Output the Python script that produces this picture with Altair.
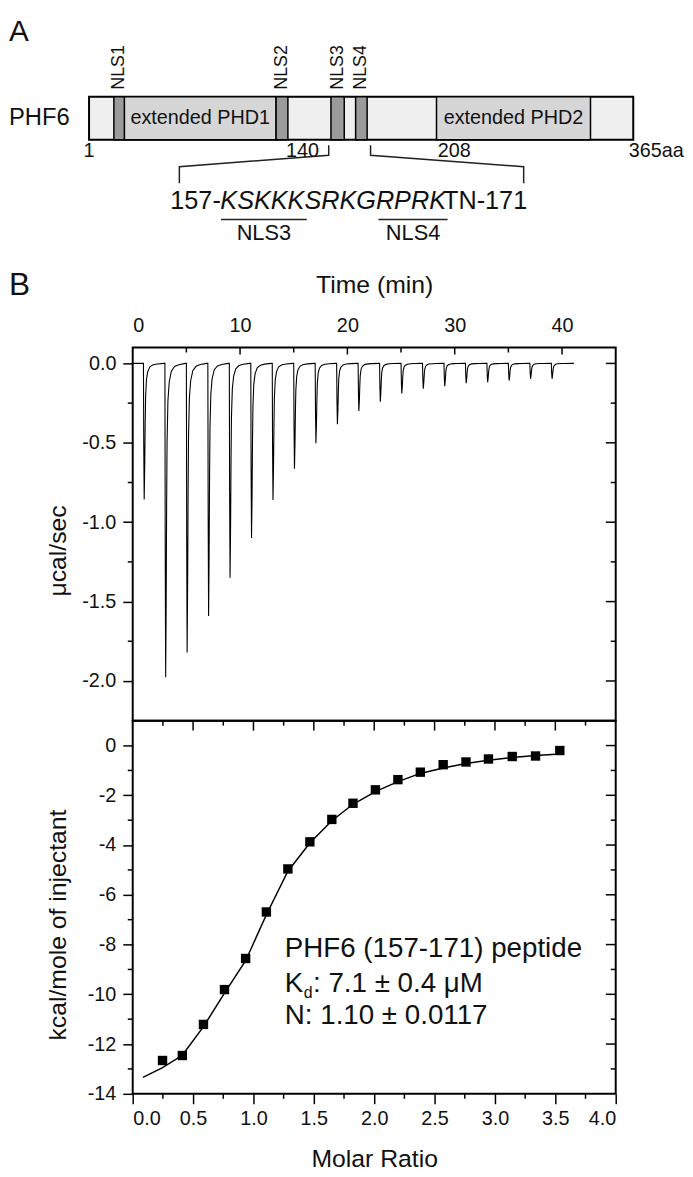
import altair as alt
import pandas as pd

FONT = "Liberation Sans"
W = 488      # plot width shared by all panels
H_A = 338    # schematic panel height
H_T = 377    # raw ITC trace height
H_B = 377    # isotherm height

# ---------------- Panel A: PHF6 domain schematic ----------------
bar_start = [1]
bar_end = [365]
domain_names = ["extended PHD1", "extended PHD2"]
domain_start = [24.6, 233.4]
domain_end = [126.1, 336.4]
nls_names = ["NLS1", "NLS2", "NLS3", "NLS4"]
nls_start = [17.6, 126.1, 162.8, 179.3]
nls_end = [24.6, 134.0, 171.7, 187.0]
residue_labels = ["1", "140", "208", "365aa"]
residue_label_pos = [1, 143.7, 245.2, 380.4]
bracket_side = ["left"] * 4 + ["right"] * 4
bracket_res = [161.3, 161.3, 61.4, 61.4, 189.3, 189.3, 291.7, 291.7]
bracket_row = [133.7, 143.7, 155.3, 172.0, 133.7, 143.7, 155.3, 172.0]
peptide_parts = ["157-", "KSKKKSRKGRPRK", "TN-171"]
peptide_part_start = [55.35, 88.8, 237.8]
peptide_italic = [False, True, False]
peptide_nls = ["NLS3", "NLS4"]
peptide_nls_start = [89.25, 194.6]
peptide_nls_end = [146.6, 240.8]

# row layout of the schematic (pixels from panel top)
ROW_A = 28.0
ROW_BAR_TOP, ROW_BAR_BOT, ROW_BAR_MID = 84.7, 128.0, 106.4
ROW_NLS_LABEL, ROW_RES_LABEL = 55.0, 139.5
ROW_SEQ, ROW_UNDER, ROW_UNDER_LABEL = 198.0, 208.7, 222.0

# ---------------- Panel B: ITC raw trace ----------------
injection_time = [1.0, 3.0, 5.0, 7.0, 9.0, 11.0, 13.0, 15.0, 17.0, 19.0,
                  21.0, 23.0, 25.0, 27.0, 29.0, 31.0, 33.0, 35.0, 37.0, 39.0]
injection_peak = [-0.857, -1.977, -1.82, -1.59, -1.35, -1.10, -0.86, -0.663, -0.503, -0.383,
                  -0.30, -0.242, -0.19, -0.16, -0.143, -0.124, -0.118, -0.108, -0.097, -0.097]
spike_dt = [0.0, 0.03, 0.07, 0.12, 0.16, 0.2, 0.28, 0.4, 0.6, 0.9, 1.3, 1.9]
spike_frac = [0.0, 0.6, 1.0, 0.75, 0.45, 0.25, 0.12, 0.06, 0.025, 0.01, 0.004, 0.0]
trace_start, trace_end = 0.0, 41.1

# ---------------- Panel B: integrated isotherm ----------------
point_ratio = [0.247, 0.411, 0.586, 0.760, 0.935, 1.107, 1.285, 1.467, 1.649, 1.824,
               2.01, 2.196, 2.382, 2.571, 2.76, 2.946, 3.143, 3.336, 3.537]
point_heat = [-12.66, -12.46, -11.21, -9.81, -8.56, -6.69, -4.96, -3.87, -2.97, -2.32,
              -1.78, -1.37, -1.07, -0.77, -0.66, -0.54, -0.44, -0.42, -0.20]
fit_ratio = [0.085, 0.247, 0.411, 0.586, 0.760, 0.935, 1.107, 1.285, 1.467, 1.649,
             1.824, 2.01, 2.196, 2.382, 2.571, 2.76, 2.946, 3.143, 3.336, 3.537]
fit_heat = [-13.34, -12.95, -12.45, -11.3, -9.95, -8.65, -6.8, -5.05, -3.92, -3.02,
            -2.36, -1.85, -1.45, -1.12, -0.9, -0.72, -0.59, -0.48, -0.4, -0.34]

# axis tick values
time_labels = [0, 10, 20, 30, 40]
time_top_major = [10, 20, 30, 40]
time_top_minor = [5, 15, 25, 35]
power_major = [0.0, -0.5, -1.0, -1.5, -2.0]
power_minor = [-0.25, -0.75, -1.25, -1.75]
ratio_major = [0.0, 0.5, 1.0, 1.5, 2.0, 2.5, 3.0, 3.5, 4.0]
ratio_inner_major = [0.5, 1.0, 1.5, 2.0, 2.5, 3.0, 3.5]
ratio_minor = [0.25, 0.75, 1.25, 1.75, 2.25, 2.75, 3.25, 3.75]
heat_major = [0, -2, -4, -6, -8, -10, -12, -14]
heat_inner_major = [0, -2, -4, -6, -8, -10, -12]
heat_minor = [-1, -3, -5, -7, -9, -11, -13]

annot_lines = ["PHF6 (157-171) peptide", "N: 1.10 \u00b1 0.0117"]
annot_heat = [-8.19, -10.88]
kd_heat = -9.58
kd_rest = ": 7.1 \u00b1 0.4 \u03bcM"
annot_ratio = 1.26

# ================= build panel A =================
xA = alt.Scale(domain=[30.2, 353.27], nice=False, zero=False)
yA = alt.Scale(domain=[0, H_A], reverse=True, nice=False, zero=False)


def xa(f):
    return alt.X(f, type="quantitative", scale=xA, axis=None)


def ya(f):
    return alt.Y(f, type="quantitative", scale=yA, axis=None)


bar_df = pd.DataFrame({"s": bar_start, "e": bar_end, "y0": [ROW_BAR_TOP], "y1": [ROW_BAR_BOT]})
bar = alt.Chart(bar_df).mark_rect(fill="#efefef", stroke="black", strokeWidth=2).encode(
    x=xa("s"), x2="e", y=ya("y0"), y2="y1")

dom_df = pd.DataFrame({"name": domain_names, "s": domain_start, "e": domain_end})
dom_df["mid"] = (dom_df["s"] + dom_df["e"]) / 2
dom_df["y0"], dom_df["y1"], dom_df["ym"] = ROW_BAR_TOP, ROW_BAR_BOT, ROW_BAR_MID
dom_rect = alt.Chart(dom_df).mark_rect(fill="#d6d6d6", stroke="black", strokeWidth=1.5).encode(
    x=xa("s"), x2="e", y=ya("y0"), y2="y1")
dom_text = alt.Chart(dom_df).mark_text(fontSize=20, font=FONT, baseline="middle", color="#111").encode(
    x=xa("mid"), y=ya("ym"), text="name:N")

nls_df = pd.DataFrame({"name": nls_names, "s": nls_start, "e": nls_end})
nls_df["mid"] = (nls_df["s"] + nls_df["e"]) / 2
nls_df["y0"], nls_df["y1"], nls_df["yl"] = ROW_BAR_TOP, ROW_BAR_BOT, ROW_NLS_LABEL
nls_rect = alt.Chart(nls_df).mark_rect(fill="#9b9b9b", stroke="black", strokeWidth=1.5).encode(
    x=xa("s"), x2="e", y=ya("y0"), y2="y1")
nls_text = alt.Chart(nls_df).mark_text(fontSize=18, font=FONT, angle=270, align="center",
                                       baseline="middle", color="#111").encode(
    x=xa("mid"), y=ya("yl"), text="name:N")

res_df = pd.DataFrame({"lab": residue_labels, "pos": residue_label_pos, "y": ROW_RES_LABEL})
res_text = alt.Chart(res_df).mark_text(fontSize=20, font=FONT, baseline="middle", color="#111").encode(
    x=xa("pos"), y=ya("y"), text="lab:N")

phf_df = pd.DataFrame({"lab": ["PHF6"], "y": [ROW_BAR_MID]})
phf_text = alt.Chart(phf_df).mark_text(fontSize=24, font=FONT, align="left", baseline="middle",
                                       color="#111").encode(
    x=alt.value(-125), y=ya("y"), text="lab:N")

a_df = pd.DataFrame({"lab": ["A"], "y": [ROW_A]})
a_text = alt.Chart(a_df).mark_text(fontSize=30, font=FONT, align="left", baseline="alphabetic",
                                   color="#111").encode(
    x=alt.value(-125), y=ya("y"), text="lab:N")

br_df = pd.DataFrame({"side": bracket_side, "r": bracket_res, "y": bracket_row,
                      "k": list(range(len(bracket_res)))})
brackets = alt.Chart(br_df).mark_line(color="#222", strokeWidth=1.5).encode(
    x=xa("r"), y=ya("y"), detail="side:N", order="k:Q")

pep_df = pd.DataFrame({"txt": peptide_parts, "s": peptide_part_start, "it": peptide_italic})
pep_df["y"] = ROW_SEQ
pep_norm = alt.Chart(pep_df[~pep_df["it"]]).mark_text(
    fontSize=25.5, font=FONT, align="left", baseline="alphabetic", color="#111").encode(
    x=xa("s"), y=ya("y"), text="txt:N")
pep_ital = alt.Chart(pep_df[pep_df["it"]]).mark_text(
    fontSize=25.5, font=FONT, fontStyle="italic", align="left", baseline="alphabetic",
    color="#111").encode(x=xa("s"), y=ya("y"), text="txt:N")

und_df = pd.DataFrame({"name": peptide_nls, "s": peptide_nls_start, "e": peptide_nls_end})
und_df["mid"] = (und_df["s"] + und_df["e"]) / 2
und_df["y"], und_df["yl"] = ROW_UNDER, ROW_UNDER_LABEL
und_rule = alt.Chart(und_df).mark_rule(color="#222", strokeWidth=1.5).encode(
    x=xa("s"), x2="e", y=ya("y"))
und_text = alt.Chart(und_df).mark_text(fontSize=22, font=FONT, baseline="middle", color="#111").encode(
    x=xa("mid"), y=ya("yl"), text="name:N")

panelA = alt.layer(bar, dom_rect, nls_rect, dom_text, nls_text, res_text, phf_text, a_text,
                   brackets, pep_norm, pep_ital, und_rule, und_text).properties(width=W, height=H_A)

# ================= common helpers for the ITC panels =================
minus_fix = "replace(datum.label, '\u2212', '-')"


def hticks(values, scale, axis, x_from, x_to):
    return alt.Chart(pd.DataFrame({"v": values})).mark_rule(color="black", strokeWidth=1.5).encode(
        y=alt.Y("v:Q", scale=scale, axis=axis), x=alt.value(x_from), x2=alt.value(x_to))


def vticks(values, scale, axis, y_from, y_to):
    return alt.Chart(pd.DataFrame({"v": values})).mark_rule(color="black", strokeWidth=1.5).encode(
        x=alt.X("v:Q", scale=scale, axis=axis), y=alt.value(y_from), y2=alt.value(y_to))


frame = alt.ViewBackground(stroke="black", strokeWidth=2)

# ================= ITC raw trace =================
rows = [(trace_start, 0.0)]
for t0, pk in zip(injection_time, injection_peak):
    for dt, fr in zip(spike_dt, spike_frac):
        rows.append((t0 + dt, pk * fr))
rows.append((trace_end, 0.0))
trace_df = pd.DataFrame(rows, columns=["t", "p"])

xT = alt.Scale(domain=[0, 45], nice=False, zero=False)
yT = alt.Scale(domain=[-2.25, 0.1], nice=False, zero=False)
axT_x = alt.Axis(orient="top", values=time_labels, ticks=False, tickSize=0, domain=False, grid=False,
                 labelFontSize=20, labelPadding=12, title="Time (min)", titleFontSize=25,
                 titleY=-64, titleBaseline="middle")
axT_y = alt.Axis(orient="left", values=power_major, format=".1f", labelExpr=minus_fix,
                 tickSize=10, tickWidth=1.5, tickColor="black", domain=False, grid=False,
                 labelFontSize=20, labelPadding=7, title="\u03bccal/sec", titleFontSize=25,
                 titleX=-76, titleY=205, titleBaseline="middle", titleAngle=270)

trace = alt.Chart(trace_df).mark_line(color="black", strokeWidth=1.1).encode(
    x=alt.X("t:Q", scale=xT, axis=axT_x),
    y=alt.Y("p:Q", scale=yT, axis=axT_y),
    order="t:Q")

b_text = alt.Chart(pd.DataFrame({"lab": ["B"]})).mark_text(
    fontSize=32, font=FONT, align="left", baseline="middle", color="#111").encode(
    x=alt.value(-125), y=alt.value(-63), text="lab:N")

top = alt.layer(
    trace,
    hticks(power_minor, yT, axT_y, 0, -5),
    hticks(power_major, yT, axT_y, W, W - 10),
    hticks(power_minor, yT, axT_y, W, W - 5),
    vticks(time_top_major, xT, axT_x, 0, 7),
    vticks(time_top_minor, xT, axT_x, 0, 5),
    b_text,
).properties(width=W, height=H_T, view=frame)

# ================= isotherm =================
xB = alt.Scale(domain=[0, 4], nice=False, zero=False)
yB = alt.Scale(domain=[-14, 1], nice=False, zero=False)
axB_x = alt.Axis(orient="bottom", values=ratio_major, format=".1f", tickSize=10, tickWidth=1.5,
                 tickColor="black", domain=False, grid=False, labelFontSize=20, labelPadding=5,
                 title="Molar Ratio", titleFontSize=25, titleY=65, titleBaseline="middle")
axB_y = alt.Axis(orient="left", values=heat_major, format="d", labelExpr=minus_fix,
                 tickSize=10, tickWidth=1.5, tickColor="black", domain=False, grid=False,
                 labelFontSize=20, labelPadding=7, title="kcal/mole of injectant", titleFontSize=25,
                 titleX=-76, titleY=206, titleBaseline="middle", titleAngle=270)

pts_df = pd.DataFrame({"r": point_ratio, "h": point_heat})
fit_df = pd.DataFrame({"r": fit_ratio, "h": fit_heat})


def bx(f):
    return alt.X(f, type="quantitative", scale=xB, axis=axB_x)


def by(f):
    return alt.Y(f, type="quantitative", scale=yB, axis=axB_y)


fit = alt.Chart(fit_df).mark_line(color="black", strokeWidth=1.5).encode(x=bx("r"), y=by("h"))
pts = alt.Chart(pts_df).mark_square(size=90, color="black", opacity=1).encode(x=bx("r"), y=by("h"))

ann_df = pd.DataFrame({"txt": annot_lines, "r": annot_ratio, "h": annot_heat})
ann = alt.Chart(ann_df).mark_text(fontSize=28, font=FONT, align="left", baseline="middle",
                                  color="#111").encode(x=bx("r"), y=by("h"), text="txt:N")

kd_df = pd.DataFrame({"txt": ["K"], "sub": ["d"], "rest": [kd_rest], "r": [annot_ratio], "h": [kd_heat]})
kd_k = alt.Chart(kd_df).mark_text(fontSize=28, font=FONT, align="left", baseline="middle",
                                  color="#111").encode(x=bx("r"), y=by("h"), text="txt:N")
kd_sub = alt.Chart(kd_df).mark_text(fontSize=16, font=FONT, align="left", baseline="middle",
                                    dx=19, dy=9, color="#111").encode(x=bx("r"), y=by("h"), text="sub:N")
kd_rest_t = alt.Chart(kd_df).mark_text(fontSize=28, font=FONT, align="left", baseline="middle",
                                       dx=28.5, color="#111").encode(x=bx("r"), y=by("h"), text="rest:N")

bottom = alt.layer(
    fit, pts, ann, kd_k, kd_sub, kd_rest_t,
    hticks(heat_minor, yB, axB_y, 0, -5),
    hticks(heat_inner_major, yB, axB_y, W, W - 10),
    hticks(heat_minor, yB, axB_y, W, W - 5),
    vticks(ratio_minor, xB, axB_x, H_B, H_B + 5),
    vticks(ratio_inner_major, xB, axB_x, 0, 10),
    vticks(ratio_minor, xB, axB_x, 0, 5),
).properties(width=W, height=H_B, view=frame)

chart = alt.vconcat(panelA, top, bottom, spacing=0, bounds="flush").properties(
    padding={"top": -2, "left": 0, "right": 0, "bottom": 0}
).configure_view(stroke="transparent").configure_axis(
    labelFont=FONT, titleFont=FONT, labelColor="#111", titleColor="#111",
    titleFontWeight="normal"
).configure_text(font=FONT)

chart.save("out.html", embed_options={"renderer": "svg", "actions": False})
